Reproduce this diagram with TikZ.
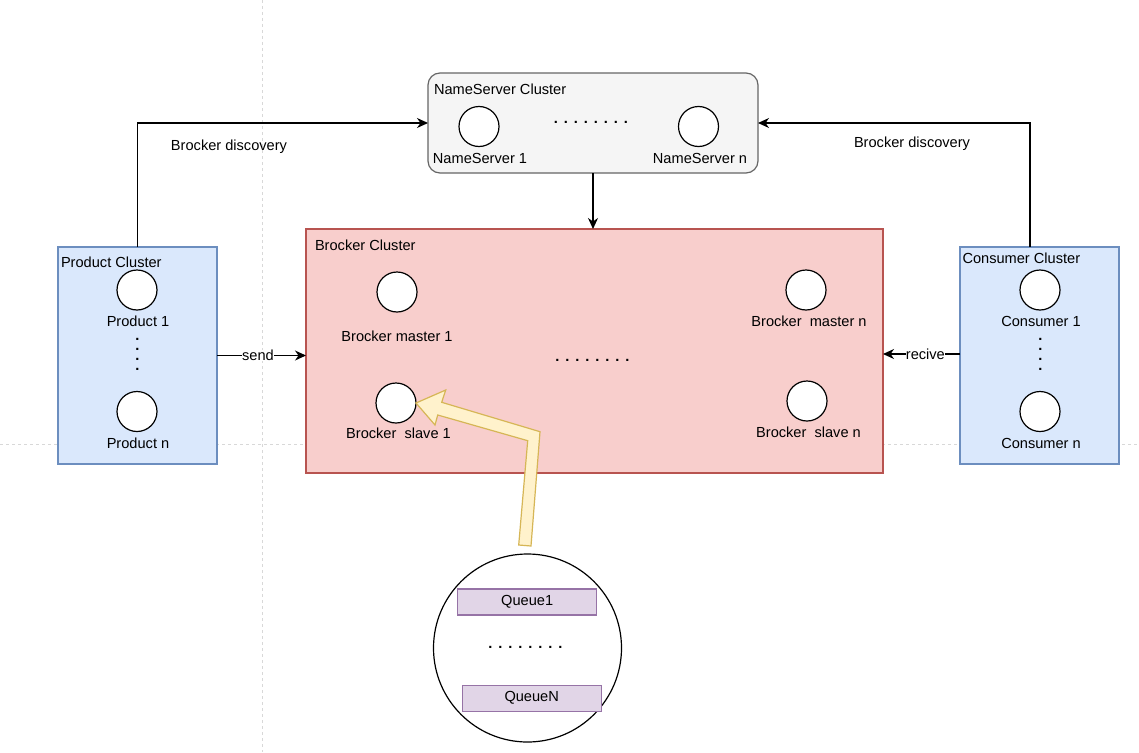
\documentclass[tikz,border=0pt]{standalone}
\usepackage{fontspec}
\setmainfont{Liberation Sans}
\usetikzlibrary{arrows.meta,calc}
\definecolor{nsfill}{HTML}{F5F5F5}
\definecolor{nsline}{HTML}{666666}
\definecolor{brfill}{HTML}{F8CECC}
\definecolor{brline}{HTML}{B85450}
\definecolor{blfill}{HTML}{DAE8FC}
\definecolor{blline}{HTML}{6C8EBF}
\definecolor{yfill}{HTML}{FFF2CC}
\definecolor{yline}{HTML}{D6B656}
\definecolor{qfill}{HTML}{E1D5E7}
\definecolor{qline}{HTML}{9673A6}
\definecolor{guide}{HTML}{D8D8D8}
\newcommand{\dotrow}[2]{\bfseries\foreach \k in {2,...,#1}{.\kern#2}.}
\newcommand{\dotcol}{\bfseries\vbox{\baselineskip=10pt\lineskiplimit=-30pt\lineskip=0pt\hbox{.}\hbox{.}\hbox{.}\hbox{.}}}
\begin{document}
\begin{tikzpicture}[x=1pt,y=-1pt,
  every node/.style={font=\fontsize{14.6}{17}\selectfont, inner sep=0pt, outer sep=0pt},
  boxbase/.style={draw, line width=1.2pt},
  nsbox/.style={boxbase, fill=nsfill, draw=nsline, rounded corners=12pt},
  brbox/.style={boxbase, fill=brfill, draw=brline},
  blbox/.style={boxbase, fill=blfill, draw=blline},
  proc/.style={circle, draw, fill=white, line width=1.2pt, minimum size=40pt},
  qbox/.style={boxbase, fill=qfill, draw=qline, minimum width=139pt, minimum height=26pt},
  title/.style={anchor=west},
  arr/.style={draw, line width=1.2pt, -{Stealth[length=11pt,width=10pt,inset=3.5pt]}},
  elabel/.style={fill=white, inner sep=0pt},
  yarrow/.style={draw=yline, fill=yfill, line width=1.2pt, line join=miter},
  guideline/.style={draw=guide, dashed, line width=0.8pt}]
\useasboundingbox (0,0) rectangle (1139,752);
\fill[white] (0,0) rectangle (1139,752);
% page guide lines
\draw[guideline] (262.5,0) -- (262.5,752);
\draw[guideline] (0,444.5) -- (1139,444.5);

% clusters
\node[nsbox, minimum width=330pt, minimum height=100pt] (ns) at (593,123) {};
\node[brbox, minimum width=577pt, minimum height=244pt] (bc) at (594.5,351) {};
\node[blbox, minimum width=159pt, minimum height=217pt] (pc) at (137.5,355.5) {};
\node[blbox, minimum width=159pt, minimum height=217pt] (cc) at (1039.5,355.5) {};

% titles
\node[title] (nst) at (434,89.5) {NameServer Cluster};
\node[title] (bct) at (315,245) {Brocker Cluster};
\node[title] (pct) at (61,262) {Product Cluster};
\node[title] (cct) at (962.5,258) {Consumer Cluster};

% nameserver
\node[proc] (ns1) at (479,126.5) {};
\node (ns1l) at (480,158) {NameServer 1};
\node[proc] (nsn) at (698.5,126.5) {};
\node (nsnl) at (700,158) {NameServer n};
\node (nsd) at (591,122.3) {\dotrow{8}{5.94pt}};

% brocker
\node[proc] (bm1) at (397,292) {};
\node (bm1l) at (397,336) {Brocker master 1};
\node[proc] (bs1) at (396,403) {};
\node (bs1l) at (398.5,433) {Brocker\ \ slave 1};
\node[proc] (bmn) at (806,290) {};
\node (bmnl) at (809,321) {Brocker\ \ master n};
\node[proc] (bsn) at (807,401) {};
\node (bsnl) at (808.5,432) {Brocker\ \ slave n};
\node (bd) at (592.3,360.7) {\dotrow{8}{5.94pt}};

% product
\node[proc] (p1) at (137,290) {};
\node (p1l) at (138,321) {Product 1};
\node[proc] (pn) at (137,411.5) {};
\node (pnl) at (138,443) {Product n};
\node (pd) at (137.3,354.3) {\dotcol};

% consumer
\node[proc] (c1) at (1040,290) {};
\node (c1l) at (1041,321) {Consumer 1};
\node[proc] (cn) at (1040,411.5) {};
\node (cnl) at (1041,443) {Consumer n};
\node (cd) at (1040.3,354.3) {\dotcol};

% connectors
\draw[arr] (pc.north) |- (ns.west);
\node (pdl) at (229,147) {Brocker discovery};
\draw[arr] ([xshift=-9.5pt]cc.north) |- (ns.east);
\node (cdl) at (912,144) {Brocker discovery};
\draw[arr] (ns.south) -- (ns.south |- bc.north);
\draw[arr] (pc.east) -- (pc.east -| bc.west) node[elabel, pos=0.46] (sendl) {send};
\draw[arr] ([yshift=1.5pt]cc.west) -- ([yshift=1.5pt]cc.west -| bc.east) node[elabel, pos=0.45] (recl) {recive};

% queue detail
\node[circle, draw, line width=1.2pt, fill=white, minimum size=188pt] (qc) at (527.5,648) {};
\node[qbox] (q1) at (527.2,602) {Queue1};
\node[qbox] (qn) at (531.7,698.2) {QueueN};
\node (qd) at (525.3,647.7) {\dotrow{8}{5.94pt}};

% big flat arrow from queue circle to slave 1
\draw[yarrow] (bs1.east) -- (445.7,390) -- (441.7,402.3) -- (540,431.7) -- (531,546)
  -- (518.7,545) -- (527.7,440.7) -- (437.7,415) -- (435,425) -- cycle;
\end{tikzpicture}
\end{document}
